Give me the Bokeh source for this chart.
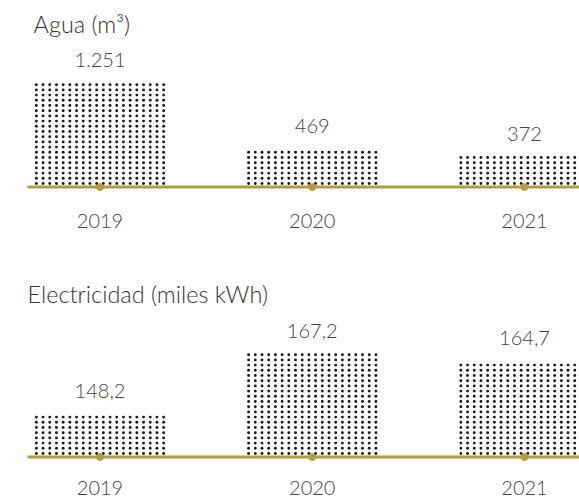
import numpy as np
from bokeh.plotting import figure
from bokeh.layouts import column
from bokeh.models import Range1d, Label, ColumnDataSource
from bokeh.core.properties import value
from bokeh.embed import file_html
from bokeh.resources import INLINE

# --- data -------------------------------------------------------------
years = ["2019", "2020", "2021"]
agua = [1251, 469, 372]
agua_labels = ["1.251", "469", "372"]
elec = [148.2, 167.2, 164.7]
elec_labels = ["148,2", "167,2", "164,7"]

# --- style ------------------------------------------------------------
W = 579
GOLD = "#b89a3f"
DOTS = "#1a1a1a"
TXT = "#444444"
FONT_NAME = "'Lato Light', Lato, sans-serif"
FONT = value(FONT_NAME)
FS = "20px"
TITLE_FS = "23.5px"

SLOT = 212.25          # px between category centres
FIRST = 99.5           # px of the first centre
BAR_W = 0.617          # bar width in category units
LINE_START = -0.342    # baseline start in category units
DOT_DX = 6.7           # px between dot columns
DOT_DY = 5.2           # px between dot rows
DOT_COLS = 20


def dot_texture(vals, base_val, px_per_unit):
    """Fill each bar's extent with a regular grid of small dots."""
    xs, ys = [], []
    col_off = (np.arange(DOT_COLS) - (DOT_COLS - 1) / 2) * DOT_DX / SLOT
    for i, v in enumerate(vals):
        h_px = (v - base_val) * px_per_unit
        rows_px = np.arange(3.5, h_px - 0.5, DOT_DY)
        for r in rows_px:
            xs.extend(i + col_off)
            ys.extend([base_val + r / px_per_unit] * DOT_COLS)
    return xs, ys


def panel(title, vals, labels, height, base_px, base_val, px_per_unit,
          title_x, year_off):
    p = figure(width=W, height=height, output_backend="svg", toolbar_location=None,
               min_border=0, min_border_left=0, min_border_right=0,
               min_border_top=0, min_border_bottom=0)
    p.axis.visible = False
    p.grid.visible = False
    p.outline_line_color = None
    p.background_fill_color = "white"
    p.border_fill_color = "white"

    p.x_range = Range1d(-FIRST / SLOT, (W - FIRST) / SLOT)
    below = height - base_px
    p.y_range = Range1d(base_val - below / px_per_unit,
                        base_val + base_px / px_per_unit)

    xs = list(range(len(years)))
    src = ColumnDataSource(dict(x=xs, top=vals, lab=labels, yr=years,
                                base=[base_val] * len(xs)))

    # bar extents (transparent) with a dotted texture inside
    p.vbar(x="x", top="top", bottom="base", width=BAR_W, source=src,
           fill_color=None, line_color=None)
    dx, dy = dot_texture(vals, base_val, px_per_unit)
    p.scatter(dx, dy, marker="circle", size=2.9, color=DOTS, line_width=0)

    # golden baseline with a marker under each year
    p.line([LINE_START, len(years)], [base_val, base_val], line_color=GOLD, line_width=3)
    p.scatter(x="x", y="base", source=src, size=7, color=GOLD)

    p.text(x="x", y="top", text="lab", source=src, y_offset=-21.5,
           text_align="center", text_baseline="middle",
           text_font=FONT, text_font_size=FS, text_color=TXT)
    p.text(x="x", y="base", text="yr", source=src, y_offset=year_off,
           text_align="center", text_baseline="middle",
           text_font=FONT, text_font_size=FS, text_color=TXT)

    p.add_layout(Label(x=title_x, y=height - 23, x_units="screen", y_units="screen",
                       text=title, text_font=FONT_NAME, text_font_size=TITLE_FS,
                       text_color="#333333", text_baseline="middle"))
    return p


top = panel("Agua (m³)", agua, agua_labels, 270, 186.5, 0, 0.0847, 33, 34)
bottom = panel("Electricidad (miles kWh)", elec, elec_labels, 229, 186.5, 134, 3.16, 27, 31)

layout = column(top, bottom, spacing=0)
open("out.html", "w").write(file_html(layout, INLINE))
